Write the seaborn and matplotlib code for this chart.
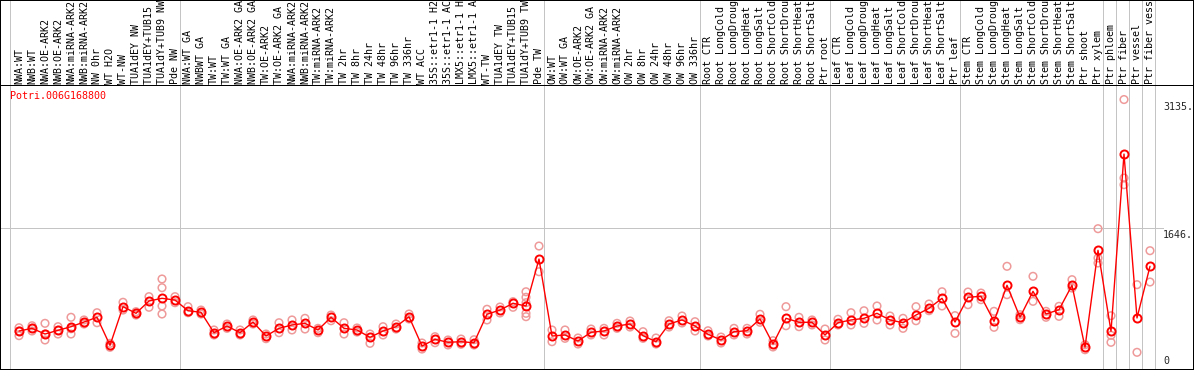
import numpy as np
import pandas as pd
import seaborn as sns
import matplotlib
matplotlib.use('Agg')
from matplotlib import pyplot as plt

gene = 'Potri.006G168800'

labels = [
    'NWA:WT', 'NWB:WT', 'NWA:OE-ARK2', 'NWB:OE-ARK2', 'NWA:miRNA-ARK2', 'NWB:miRNA-ARK2',
    'NW 0hr', 'WT H2O', 'WT-NW', 'TUA1dEY NW', 'TUA1dEY+TUB15 NW', 'TUA1dY+TUB9 NW', 'Pde NW',
    'NWA:WT GA', 'NWBWT GA', 'TW:WT', 'TW:WT GA', 'NWA:OE-ARK2 GA', 'NWB:OE-ARK2 GA',
    'TW:OE-ARK2', 'TW:OE-ARK2 GA', 'NWA:miRNA-ARK2', 'NWB:miRNA-ARK2', 'TW:miRNA-ARK2',
    'TW:miRNA-ARK2', 'TW 2hr', 'TW 8hr', 'TW 24hr', 'TW 48hr', 'TW 96hr', 'TW 336hr',
    'WT ACC', '35S::etr1-1 H2O', '35S::etr1-1 ACC', 'LMX5::etr1-1 H2O', 'LMX5::etr1-1 ACC',
    'WT-TW', 'TUA1dEY TW', 'TUA1dEY+TUB15 TW', 'TUA1dY+TUB9 TW', 'Pde TW',
    'OW:WT', 'OW:WT GA', 'OW:OE-ARK2', 'OW:OE-ARK2 GA', 'OW:miRNA-ARK2', 'OW:miRNA-ARK2',
    'OW 2hr', 'OW 8hr', 'OW 24hr', 'OW 48hr', 'OW 96hr', 'OW 336hr',
    'Root CTR', 'Root LongCold', 'Root LongDrought', 'Root LongHeat', 'Root LongSalt',
    'Root ShortCold', 'Root ShortDrought', 'Root ShortHeat', 'Root ShortSalt', 'Ptr root',
    'Leaf CTR', 'Leaf LongCold', 'Leaf LongDrought', 'Leaf LongHeat', 'Leaf LongSalt',
    'Leaf ShortCold', 'Leaf ShortDrought', 'Leaf ShortHeat', 'Leaf ShortSalt', 'Ptr leaf',
    'Stem CTR', 'Stem LongCold', 'Stem LongDrought', 'Stem LongHeat', 'Stem LongSalt',
    'Stem ShortCold', 'Stem ShortDrought', 'Stem ShortHeat', 'Stem ShortSalt', 'Ptr shoot',
    'Ptr xylem', 'Ptr phloem', 'Ptr fiber', 'Ptr vessel', 'Ptr fiber vessel',
]

# sizes of the blocks separated by grey lines
group_sizes = [13, 28, 12, 10, 10, 11, 1, 1, 1, 1]

means = [
    452, 483, 417, 460, 502, 556, 611, 286, 734, 657, 800, 831, 811,
    687, 669, 432, 510, 432, 556, 394, 483, 522, 541, 464, 611, 483, 464, 379,
    452, 502, 618, 278, 356, 321, 328, 316, 646, 695, 773, 742, 1286,
    394, 406, 336, 437, 452, 510, 533, 398, 328, 533, 580, 510,
    414, 348, 444, 455, 591, 301, 599, 553, 553, 406,
    548, 580, 599, 657, 580, 548, 637, 715, 831, 556,
    843, 854, 564, 982, 611, 912, 649, 699, 982, 263,
    1387, 449, 2503, 603, 1202,
]

replicates = [
    [490, 398, 452], [513, 452, 483], [541, 348, 417], [502, 417, 460], [611, 417, 478],
    [580, 533], [664, 548], [309, 263], [785, 695], [676, 637], [850, 727],
    [1055, 954, 742, 649], [850, 780],
    [734, 664], [695, 649], [464, 406], [533, 483], [464, 406], [580, 533], [417, 363],
    [548, 432], [580, 464], [599, 475], [483, 432], [637, 571], [548, 417], [487, 440],
    [417, 309], [502, 406], [533, 475], [649, 591], [313, 243], [386, 316], [348, 290],
    [359, 298], [351, 290], [704, 580], [730, 661], [792, 727],
    [907, 843, 780, 657, 618], [1437, 1139],
    [464, 328], [464, 367], [371, 301], [475, 406], [483, 406], [541, 483], [568, 498],
    [444, 367], [371, 301], [571, 498], [626, 545], [560, 452],
    [455, 394], [382, 313], [483, 406], [483, 417], [646, 553], [340, 267], [734, 513],
    [611, 502], [580, 522], [475, 348],
    [588, 522], [664, 522], [687, 541], [742, 580], [626, 522], [599, 483], [734, 571],
    [765, 687], [907, 742], [630, 425],
    [904, 757], [892, 815], [680, 495], [1202, 873], [641, 583], [1086, 796], [680, 611],
    [738, 622], [1047, 950], [293, 235],
    [1638, 1298, 1240], [629, 402, 321], [3135, 2225, 2148], [989, 205], [1383, 1020],
]

tick_values = [3135, 1646, 0]
tick_labels = ['3135.', '1646.', '0']

# layout in pixels
W, H = 1194, 370
x0_px, step_px = 19, 13
px_per_unit = 0.08627


def ypx(p):
    return (H - p) / px_per_unit


def xpx(p):
    return (p - x0_px) / step_px


idx = np.arange(len(labels))
rep_df = pd.DataFrame(
    [(i, v) for i, vals in enumerate(replicates) for v in vals],
    columns=['idx', 'value'])

sns.set_style('white')
plt.rcParams['font.family'] = ['DejaVu Sans Mono']

fig = plt.figure(figsize=(W / 100, H / 100), dpi=100)
ax = fig.add_axes([0, 0, 1, 1])
ax.set_xlim(xpx(0), xpx(W))
ax.set_ylim(0, ypx(0))

grey = '#c4c4c4'
ax.axvline(xpx(10), color=grey, lw=0.72, antialiased=False, zorder=1)
for end in np.cumsum(group_sizes) - 1:
    ax.axvline(end + 0.4, color=grey, lw=0.72, antialiased=False, zorder=1)
ax.hlines(1646, xpx(0), xpx(1163), color=grey, lw=0.72, antialiased=False, zorder=1)
ax.axhline(ypx(85), color='black', lw=0.72, antialiased=False, zorder=5)

sns.scatterplot(data=rep_df, x='idx', y='value', ax=ax, s=30,
                facecolors='none', edgecolor='#ef9a9a', linewidth=1.1,
                legend=False, zorder=3)
sns.lineplot(x=idx, y=means, ax=ax, color='red', lw=1, marker='o',
             markersize=5.8, markerfacecolor='none', markeredgecolor='red',
             markeredgewidth=1.4, zorder=4)

for i, lab in enumerate(labels):
    ax.text(i, ypx(83.5), lab, rotation=90, ha='center', va='bottom',
            fontsize=7.2, color='black')

for v, t in zip(tick_values, tick_labels):
    if v > 0:
        ax.annotate(t, (xpx(1163), v), xytext=(0, -2), textcoords='offset pixels',
                    ha='left', va='top', fontsize=7.2)
    else:
        ax.annotate(t, (xpx(1163), v), xytext=(0, 4), textcoords='offset pixels',
                    ha='left', va='bottom', fontsize=7.2)

ax.text(xpx(10), ypx(91), gene, color='red', ha='left', va='top', fontsize=7.2)

ax.set_xticks([])
ax.set_yticks([])
ax.set_xlabel('')
ax.set_ylabel('')
for s in ax.spines.values():
    s.set_visible(True)
    s.set_color('black')
    s.set_linewidth(1.44)

fig.savefig('out.png', dpi=100, facecolor='white')
